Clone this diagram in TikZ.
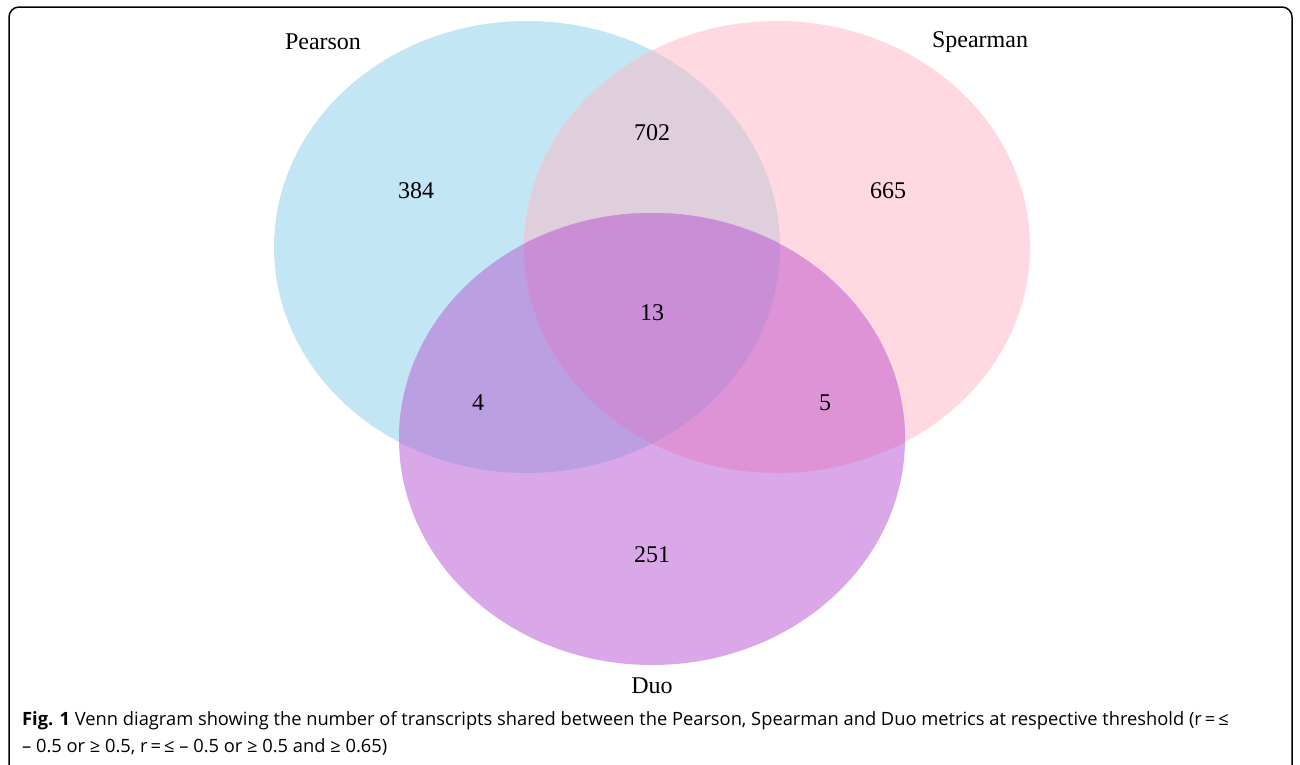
\documentclass[tikz,border=0pt]{standalone}
\usepackage{fontspec}
\setmainfont{Liberation Serif}
\newfontfamily\capfont{Open Sans}
\definecolor{cP}{RGB}{194,230,243}
\definecolor{cS}{RGB}{255,216,225}
\definecolor{cD}{RGB}{218,168,232}
\definecolor{cPS}{RGB}{223,206,220}
\definecolor{cPD}{RGB}{188,158,226}
\definecolor{cSD}{RGB}{222,147,214}
\definecolor{cPSD}{RGB}{202,142,214}
\begin{document}
\begin{tikzpicture}[x=1pt,y=-1pt,
  setlabel/.style={font=\fontsize{24}{28}\selectfont, inner sep=0pt},
  numlabel/.style={font=\fontsize{24}{28}\selectfont, inner sep=0pt},
  caplabel/.style={anchor=west, inner sep=0pt, font=\capfont\fontsize{18.3}{22}\selectfont}]
\useasboundingbox (0,0) rectangle (1300,764);
\def\P{(527,247) ellipse [x radius=253, y radius=226]}
\def\S{(777,247) ellipse [x radius=253, y radius=226]}
\def\D{(652,439) ellipse [x radius=253, y radius=226]}
% frame
\draw[line width=1.5pt, rounded corners=10pt] (9,770) -- (9,7) -- (1292,7) -- (1292,770);
% single sets
\fill[cP] \P;
\fill[cS] \S;
\fill[cD] \D;
% pairwise
\begin{scope}\clip \P; \fill[cPS] \S; \end{scope}
\begin{scope}\clip \P; \fill[cPD] \D; \end{scope}
\begin{scope}\clip \S; \fill[cSD] \D; \end{scope}
\begin{scope}\clip \P; \clip \S; \fill[cPSD] \D; \end{scope}
% labels
\node[setlabel] (lp) at (323,42) {Pearson};
\node[setlabel] (ls) at (980,42) {Spearman};
\node[setlabel] (ld) at (652,686) {Duo};
\node[numlabel] (n702) at (652,133) {702};
\node[numlabel] (n384) at (416,191) {384};
\node[numlabel] (n665) at (888,191) {665};
\node[numlabel] (n13) at (652,313) {13};
\node[numlabel] (n4) at (478,403) {4};
\node[numlabel] (n5) at (825,403) {5};
\node[numlabel] (n251) at (652,555) {251};
% caption
\node[caplabel] (cap1) at (22,721) {\textbf{Fig. 1} Venn diagram showing the number of transcripts shared between the Pearson, Spearman and Duo metrics at respective threshold (r\,=\,≤};
\node[caplabel] (cap2) at (22,747) {– 0.5 or ≥ 0.5, r\,=\,≤ – 0.5 or ≥ 0.5 and ≥ 0.65)};
\end{tikzpicture}
\end{document}
